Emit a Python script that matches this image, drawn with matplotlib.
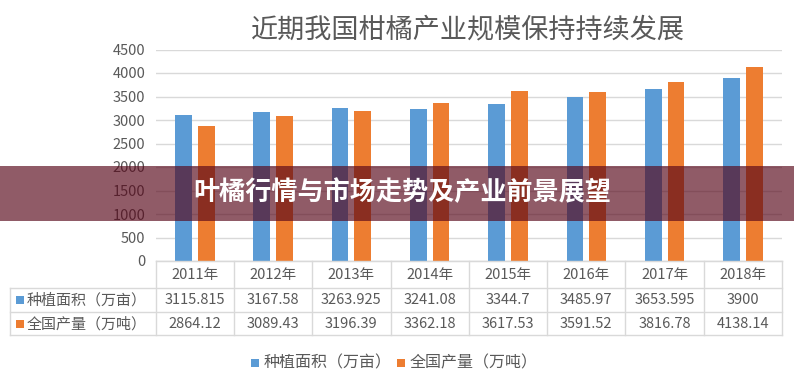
import matplotlib
matplotlib.use("Agg")
import matplotlib.pyplot as plt
from matplotlib.patches import Rectangle
from matplotlib.transforms import blended_transform_factory

plt.rcParams['font.family'] = ['Noto Sans CJK SC', 'DejaVu Sans']

title = "近期我国柑橘产业规模保持持续发展"
banner_text = "叶橘行情与市场走势及产业前景展望"
years = ["2011年", "2012年", "2013年", "2014年", "2015年", "2016年", "2017年", "2018年"]
series_names = ["种植面积（万亩）", "全国产量（万吨）"]
area = [3115.815, 3167.58, 3263.925, 3241.08, 3344.7, 3485.97, 3653.595, 3900]
output = [2864.12, 3089.43, 3196.39, 3362.18, 3617.53, 3591.52, 3816.78, 4138.14]
area_labels = ["3115.815", "3167.58", "3263.925", "3241.08", "3344.7", "3485.97", "3653.595", "3900"]
output_labels = ["2864.12", "3089.43", "3196.39", "3362.18", "3617.53", "3591.52", "3816.78", "4138.14"]
yticks = [0, 500, 1000, 1500, 2000, 2500, 3000, 3500, 4000, 4500]

W, H = 794, 387
blue = "#5B9BD5"
orange = "#ED7D31"
grid_c = "#D9D9D9"
text_c = "#595959"

fig = plt.figure(figsize=(W / 100, H / 100), dpi=100)
fig.patch.set_facecolor("white")

def fx(px):
    return px / W

def fy(py):
    return 1 - py / H

left, right, top, bottom = 155.7, 782, 49.5, 261
ax = fig.add_axes([fx(left), fy(bottom), fx(right) - fx(left), (bottom - top) / H])
n = len(years)
x = list(range(n))
bw = 0.215
off = 0.145
ax.bar([i - off for i in x], area, width=bw, color=blue, zorder=3)
ax.bar([i + off for i in x], output, width=bw, color=orange, zorder=3)
ax.set_xlim(-0.5, n - 0.5)
ax.set_ylim(0, 4500)
ax.set_yticks(yticks)
ax.set_yticklabels([str(t) for t in yticks], fontsize=10.5, color=text_c)
ax.tick_params(axis="y", length=0, pad=7.5)
ax.set_xticks([])
ax.grid(axis="y", color=grid_c, linewidth=1, zorder=0)
for s in ["top", "right", "left"]:
    ax.spines[s].set_visible(False)
ax.spines["bottom"].set_color(grid_c)
ax.set_facecolor("none")

# Title
fig.text(0.5 * (fx(252) + fx(683)), fy(30), title, ha="center", va="center",
         fontsize=19.5, color=text_c)

# Table
tr = blended_transform_factory(ax.transData, fig.transFigure)
row_lines = [261, 288, 312, 335]
fig.add_artist(plt.Line2D([fx(left), fx(right)], [fy(261), fy(261)], color=grid_c, lw=1))
for yl in row_lines[1:]:
    fig.add_artist(plt.Line2D([fx(10), fx(right)], [fy(yl), fy(yl)], color=grid_c, lw=1))
for i in range(n + 1):
    xx = fx(left + i * (right - left) / n)
    fig.add_artist(plt.Line2D([xx, xx], [fy(261), fy(335)], color=grid_c, lw=1))
fig.add_artist(plt.Line2D([fx(10), fx(10)], [fy(288), fy(335)], color=grid_c, lw=1))

for i, yr in enumerate(years):
    fig.text(i, fy(275), yr, transform=tr, ha="center", va="center",
             fontsize=10.5, color=text_c)
    fig.text(i, fy(300), area_labels[i], transform=tr, ha="center", va="center",
             fontsize=10.5, color=text_c)
    fig.text(i, fy(324), output_labels[i], transform=tr, ha="center", va="center",
             fontsize=10.5, color=text_c)

for yc, name, col in [(300, series_names[0], blue), (324, series_names[1], orange)]:
    fig.add_artist(Rectangle((fx(16), fy(yc + 4)), 8 / W, 8 / H, facecolor=col, lw=0,
                             transform=fig.transFigure))
    fig.text(fx(27), fy(yc), name, ha="left", va="center", fontsize=10.8, color=text_c)

# Legend
for xc, name, col in [(251, series_names[0], blue), (397, series_names[1], orange)]:
    fig.add_artist(Rectangle((fx(xc), fy(363 + 4)), 8 / W, 8 / H, facecolor=col, lw=0,
                             transform=fig.transFigure))
    fig.text(fx(xc + 13), fy(363), name, ha="left", va="center", fontsize=11.5, color=text_c)

# Banner overlay
fig.add_artist(Rectangle((0, fy(221)), 1, 55 / H, facecolor=(87 / 255, 6 / 255, 25 / 255),
                         lw=0, alpha=0.66, transform=fig.transFigure, zorder=10))
fig.text(0.5 * (fx(194) + fx(610)), fy(193), banner_text, ha="center", va="center",
         fontsize=18.8, fontweight="bold", color="white", zorder=11)

fig.savefig("out.png", dpi=100)
